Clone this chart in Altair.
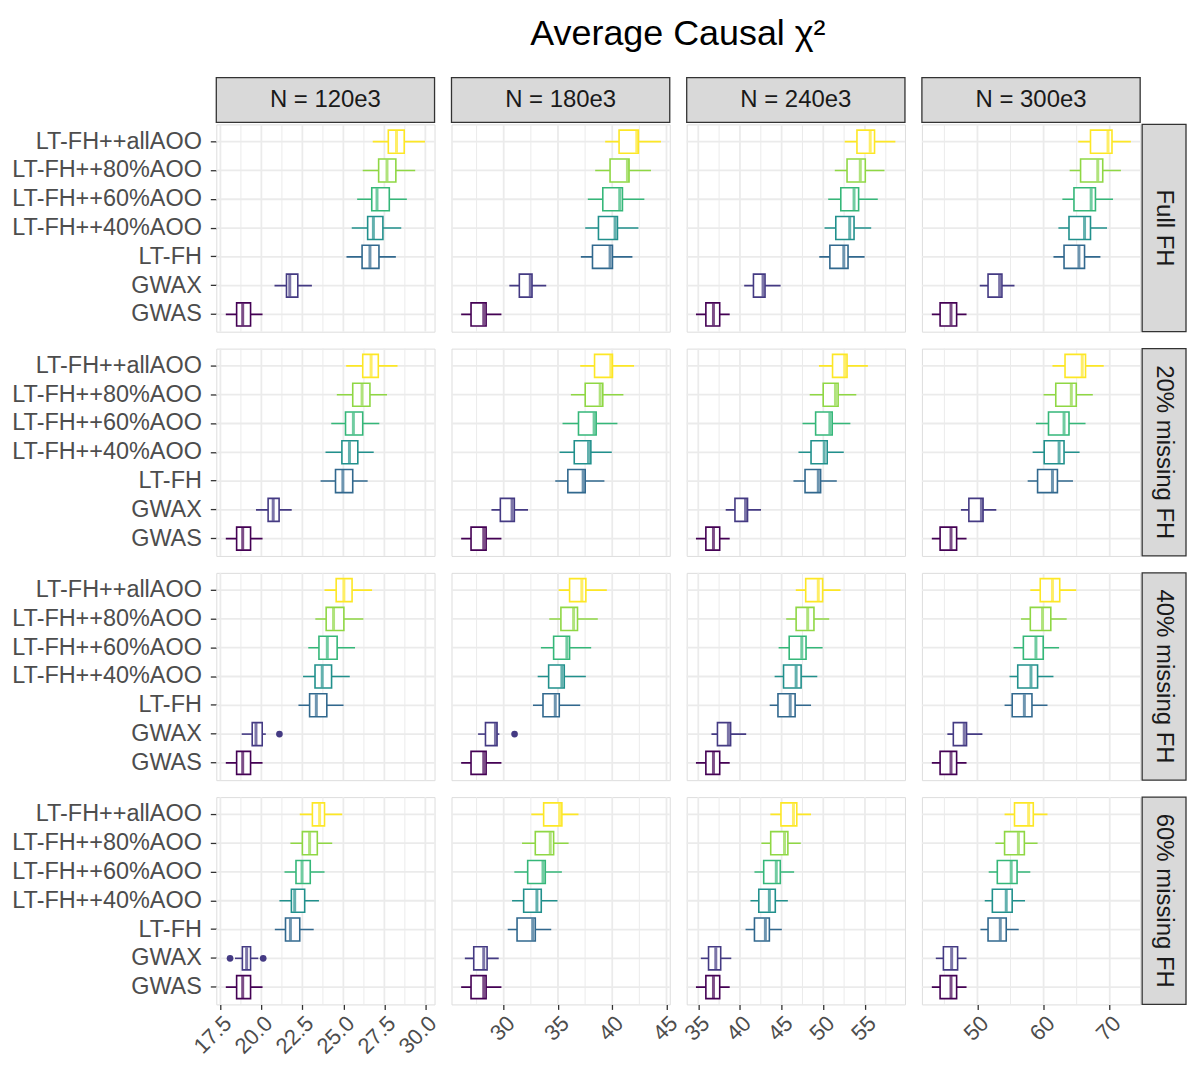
import altair as alt
import pandas as pd

FONT = "Liberation Sans"

METHODS = ["LT-FH++allAOO", "LT-FH++80%AOO", "LT-FH++60%AOO", "LT-FH++40%AOO",
           "LT-FH", "GWAX", "GWAS"]
COLORS = ["#FDE725", "#8FD744", "#35B779", "#21908C", "#31688E", "#443A83", "#440154"]

COL_LABELS = ["N = 120e3", "N = 180e3", "N = 240e3", "N = 300e3"]
ROW_LABELS = ["Full FH", "20% missing FH", "40% missing FH", "60% missing FH"]

X_DOMAINS = [[17.25, 30.56], [25.19, 45.3], [33.61, 59.8], [41.6, 74.6]]
X_MAJOR = [[17.5, 20.0, 22.5, 25.0, 27.5, 30.0], [30, 35, 40, 45],
           [35, 40, 45, 50, 55], [50, 60, 70]]
X_MINOR = [[18.75, 21.25, 23.75, 26.25, 28.75], [27.5, 32.5, 37.5, 42.5],
           [37.5, 42.5, 47.5, 52.5, 57.5], [45, 55, 65]]
X_FORMAT = [".1f", "d", "d", "d"]

# each row: [lower whisker, q1, median, q3, upper whisker], methods in METHODS order
FULL_120 = [[26.79, 27.74, 28.24, 28.71, 29.98], [26.18, 27.15, 27.66, 28.20, 29.38],
            [25.84, 26.73, 27.05, 27.80, 28.87], [25.51, 26.48, 26.83, 27.41, 28.53],
            [25.19, 26.14, 26.62, 27.17, 28.20], [20.80, 21.53, 21.73, 22.22, 23.08],
            [17.83, 18.49, 18.86, 19.34, 20.07]]
FULL_180 = [[39.35, 40.63, 42.26, 42.41, 44.49], [38.43, 39.80, 41.40, 41.55, 43.57],
            [37.75, 39.13, 40.69, 40.94, 42.96], [37.51, 38.73, 40.26, 40.48, 42.41],
            [37.11, 38.18, 39.80, 40.02, 41.86], [30.52, 31.44, 32.45, 32.61, 33.92],
            [26.08, 26.99, 28.16, 28.38, 29.79]]
FULL_240 = [[52.57, 54.04, 55.63, 56.15, 58.65], [51.38, 52.85, 54.44, 55.04, 57.34],
            [50.59, 52.10, 53.69, 54.24, 56.54], [50.15, 51.50, 53.17, 53.69, 55.75],
            [49.52, 50.79, 52.46, 52.97, 54.96], [40.51, 41.62, 42.77, 43.01, 44.88],
            [34.72, 35.91, 36.82, 37.57, 38.77]]
FULL_300 = [[65.24, 67.09, 69.74, 70.34, 73.19], [63.94, 65.59, 68.19, 68.94, 71.69],
            [62.84, 64.59, 67.19, 67.84, 70.49], [62.24, 63.84, 66.19, 67.09, 69.59],
            [61.49, 63.09, 65.34, 66.19, 68.59], [50.35, 51.60, 53.35, 53.70, 55.60],
            [43.10, 44.35, 46.00, 46.85, 48.35]]

M20_120 = [[25.17, 26.18, 26.69, 27.13, 28.30], [24.60, 25.57, 26.14, 26.62, 27.66],
           [24.26, 25.13, 25.61, 26.18, 27.19], [23.91, 24.91, 25.37, 25.88, 26.85],
           [23.61, 24.52, 24.97, 25.57, 26.48], [19.67, 20.41, 20.72, 21.08, 21.85],
           [17.83, 18.49, 18.86, 19.34, 20.07]]
M20_180 = [[37.05, 38.37, 39.87, 40.02, 42.01], [36.19, 37.51, 38.89, 39.13, 41.03],
           [35.42, 36.89, 38.33, 38.52, 40.48], [35.15, 36.50, 37.81, 38.03, 39.96],
           [34.75, 35.91, 37.32, 37.51, 39.28], [28.87, 29.69, 30.77, 30.98, 32.24],
           [26.08, 26.99, 28.16, 28.38, 29.79]]
M20_240 = [[49.48, 51.11, 52.57, 52.85, 55.35], [48.37, 49.99, 51.46, 51.78, 53.96],
           [47.50, 49.08, 50.79, 51.07, 53.25], [47.02, 48.53, 50.11, 50.47, 52.46],
           [46.42, 47.81, 49.40, 49.68, 51.62], [38.29, 39.40, 40.67, 40.91, 42.53],
           [34.72, 35.91, 36.82, 37.57, 38.77]]
M20_300 = [[61.34, 63.24, 65.84, 66.34, 69.09], [59.99, 61.84, 64.19, 64.94, 67.44],
           [58.84, 60.74, 63.09, 63.84, 66.34], [58.34, 60.09, 62.34, 63.09, 65.44],
           [57.59, 59.09, 61.34, 62.09, 64.44], [47.50, 48.70, 50.60, 50.85, 52.85],
           [43.10, 44.35, 46.00, 46.85, 48.35]]

M40_120 = [[23.85, 24.56, 25.03, 25.53, 26.75], [23.29, 23.95, 24.40, 25.03, 26.22],
           [22.86, 23.51, 24.02, 24.62, 25.71], [22.54, 23.27, 23.71, 24.28, 25.39],
           [22.26, 22.94, 23.35, 23.99, 25.01], [18.80, 19.44, 19.67, 20.05, 20.27],
           [17.83, 18.49, 18.86, 19.34, 20.07]]
M40_180 = [[35.06, 36.07, 37.20, 37.57, 39.50], [34.20, 35.27, 36.44, 36.80, 38.67],
           [33.43, 34.60, 35.82, 36.07, 38.06], [33.13, 34.14, 35.36, 35.58, 37.57],
           [32.70, 33.62, 34.75, 35.12, 37.05], [27.64, 28.32, 29.24, 29.39, 29.60],
           [26.08, 26.99, 28.16, 28.38, 29.79]]
M40_240 = [[46.70, 47.89, 49.40, 49.92, 52.06], [45.55, 46.74, 48.13, 48.88, 50.71],
           [44.64, 45.91, 47.42, 47.93, 49.92], [44.16, 45.23, 46.74, 47.34, 49.28],
           [43.57, 44.56, 46.03, 46.62, 48.53], [36.58, 37.30, 38.61, 38.88, 40.75],
           [34.72, 35.91, 36.82, 37.57, 38.77]]
M40_300 = [[57.99, 59.49, 61.34, 62.44, 64.94], [56.59, 57.99, 59.84, 61.09, 63.49],
           [55.45, 56.94, 58.84, 59.94, 62.34], [54.85, 56.09, 58.09, 59.09, 61.49],
           [54.10, 55.25, 57.09, 58.24, 60.59], [45.45, 46.35, 48.00, 48.35, 50.75],
           [43.10, 44.35, 46.00, 46.85, 48.35]]

M60_120 = [[22.34, 23.11, 23.55, 23.85, 24.93], [21.77, 22.50, 22.94, 23.41, 24.32],
           [21.41, 22.11, 22.48, 22.98, 23.85], [21.10, 21.83, 22.03, 22.64, 23.51],
           [20.82, 21.47, 21.77, 22.34, 23.19], [18.39, 18.84, 19.10, 19.34, 19.81],
           [17.83, 18.49, 18.86, 19.34, 20.07]]
M60_180 = [[32.54, 33.68, 35.15, 35.36, 36.89], [31.69, 32.91, 34.29, 34.60, 35.98],
           [30.98, 32.21, 33.62, 33.83, 35.36], [30.77, 31.84, 33.06, 33.46, 34.96],
           [30.37, 31.23, 32.67, 32.91, 34.38], [26.42, 27.24, 28.16, 28.47, 29.54],
           [26.08, 26.99, 28.16, 28.38, 29.79]]
M60_240 = [[43.65, 44.92, 46.42, 46.82, 48.53], [42.57, 43.69, 45.35, 45.75, 47.30],
           [41.74, 42.85, 44.36, 44.84, 46.50], [41.26, 42.26, 43.53, 44.24, 45.75],
           [40.67, 41.74, 43.05, 43.53, 45.03], [35.31, 36.23, 37.10, 37.69, 38.96],
           [34.72, 35.91, 36.82, 37.57, 38.77]]
M60_300 = [[54.10, 55.60, 57.74, 58.44, 60.59], [52.70, 54.10, 56.19, 57.09, 59.09],
           [51.70, 53.00, 55.10, 55.99, 57.99], [51.10, 52.25, 54.35, 55.25, 57.19],
           [50.45, 51.60, 53.45, 54.35, 56.24], [43.70, 44.85, 46.10, 47.00, 48.35],
           [43.10, 44.35, 46.00, 46.85, 48.35]]

PANELS = [[FULL_120, FULL_180, FULL_240, FULL_300],
          [M20_120, M20_180, M20_240, M20_300],
          [M40_120, M40_180, M40_240, M40_300],
          [M60_120, M60_180, M60_240, M60_300]]

# outliers: (row index, column index, method, value)
OUTLIERS = [(2, 0, "GWAX", 21.10), (2, 1, "GWAX", 31.00),
            (3, 0, "GWAX", 18.09), (3, 0, "GWAX", 20.11)]

W, H = 219, 208
GRID = "#EBEBEB"
DARK = "#333333"


def x_enc(field, r, c):
    scale = alt.Scale(domain=X_DOMAINS[c], nice=False, zero=False)
    if r == 3:
        axis = alt.Axis(values=X_MAJOR[c], format=X_FORMAT[c], labelAngle=315,
                        labelAlign="right", labelBaseline="top", grid=False,
                        domain=False, ticks=True, tickSize=5, tickColor=DARK,
                        tickWidth=1.3, labelFontSize=22, labelColor="#4D4D4D",
                        labelFont=FONT, labelPadding=3, labelOverlap=False,
                        labelFlush=False, labelBound=False, title=None)
    else:
        axis = None
    return alt.X(f"{field}:Q", scale=scale, axis=axis, title=None)


def y_enc(c):
    scale = alt.Scale(domain=METHODS, paddingInner=0.2, paddingOuter=0.2)
    if c == 0:
        axis = alt.Axis(labelFontSize=23.5, labelColor="#4D4D4D", labelFont=FONT,
                        ticks=True, tickSize=6, tickColor=DARK, tickWidth=1.3,
                        domain=False, grid=False, bandPosition=0.5,
                        labelPadding=9, labelLimit=0, labelOverlap=False,
                        title=None)
    else:
        axis = None
    return alt.Y("method:N", scale=scale, axis=axis, sort=METHODS, title=None)


def color_scale():
    return alt.Scale(domain=METHODS, range=COLORS)


def panel(r, c):
    df = pd.DataFrame(PANELS[r][c], columns=["lo", "q1", "med", "q3", "hi"])
    df["method"] = METHODS
    col = alt.Color("method:N", scale=color_scale(), legend=None)
    strk = alt.Stroke("method:N", scale=color_scale(), legend=None)

    minor = alt.Chart(pd.DataFrame({"v": X_MINOR[c]})).mark_rule(
        color=GRID, strokeWidth=1.0).encode(x=x_enc("v", r, c))
    major = alt.Chart(pd.DataFrame({"v": X_MAJOR[c]})).mark_rule(
        color=GRID, strokeWidth=1.8).encode(x=x_enc("v", r, c))
    hgrid = alt.Chart(pd.DataFrame({"method": METHODS})).mark_rule(
        color=GRID, strokeWidth=1.8).encode(y=y_enc(c))

    base = alt.Chart(df)
    whisk = base.mark_rule(strokeWidth=1.6).encode(
        x=x_enc("lo", r, c), x2="hi:Q", y=y_enc(c), color=col)
    box = base.mark_bar(fill="white", strokeWidth=1.6).encode(
        x=x_enc("q1", r, c), x2="q3:Q", y=y_enc(c), stroke=strk)
    med = base.mark_tick(thickness=3, size=22).encode(
        x=x_enc("med", r, c), y=y_enc(c), color=col)

    layers = [minor, major, hgrid, whisk, box, med]

    outs = [(m, v) for (rr, cc, m, v) in OUTLIERS if rr == r and cc == c]
    if outs:
        odf = pd.DataFrame(outs, columns=["method", "v"])
        layers.append(alt.Chart(odf).mark_circle(size=45, opacity=1).encode(
            x=x_enc("v", r, c), y=y_enc(c), color=col))

    if r == 0:
        sdf = pd.DataFrame({"label": [COL_LABELS[c]]})
        layers.append(alt.Chart(sdf).mark_rect(
            fill="#D9D9D9", stroke=DARK, strokeWidth=1.3).encode(
            x=alt.value(0), x2=alt.value(W), y=alt.value(-47), y2=alt.value(-2)))
        layers.append(alt.Chart(sdf).mark_text(
            font=FONT, fontSize=24, color="#1A1A1A", align="center",
            baseline="middle").encode(
            x=alt.value(W / 2), y=alt.value(-24.5), text="label:N"))
    if c == 3:
        rdf = pd.DataFrame({"label": [ROW_LABELS[r]]})
        layers.append(alt.Chart(rdf).mark_rect(
            fill="#D9D9D9", stroke=DARK, strokeWidth=1.3).encode(
            x=alt.value(W + 2), x2=alt.value(W + 46), y=alt.value(0), y2=alt.value(H)))
        layers.append(alt.Chart(rdf).mark_text(
            font=FONT, fontSize=24, color="#1A1A1A", align="center",
            baseline="middle", angle=90).encode(
            x=alt.value(W + 24), y=alt.value(H / 2), text="label:N"))

    return alt.layer(*layers).properties(width=W, height=H)


rows = []
for r in range(4):
    rows.append(alt.hconcat(*[panel(r, c) for c in range(4)], spacing=17,
                            bounds="flush"))

chart = alt.vconcat(*rows, spacing=13).properties(
    title=alt.TitleParams("Average Causal χ²", font=FONT, fontSize=36,
                          fontWeight="normal", color="#000000", anchor="middle",
                          dx=79, offset=24),
    padding={"left": 3, "top": 5, "right": 0, "bottom": 0},
).configure_view(stroke=DARK, strokeWidth=1.3).configure(font=FONT)

chart.save("out.html", embed_options={"renderer": "svg", "actions": False})
